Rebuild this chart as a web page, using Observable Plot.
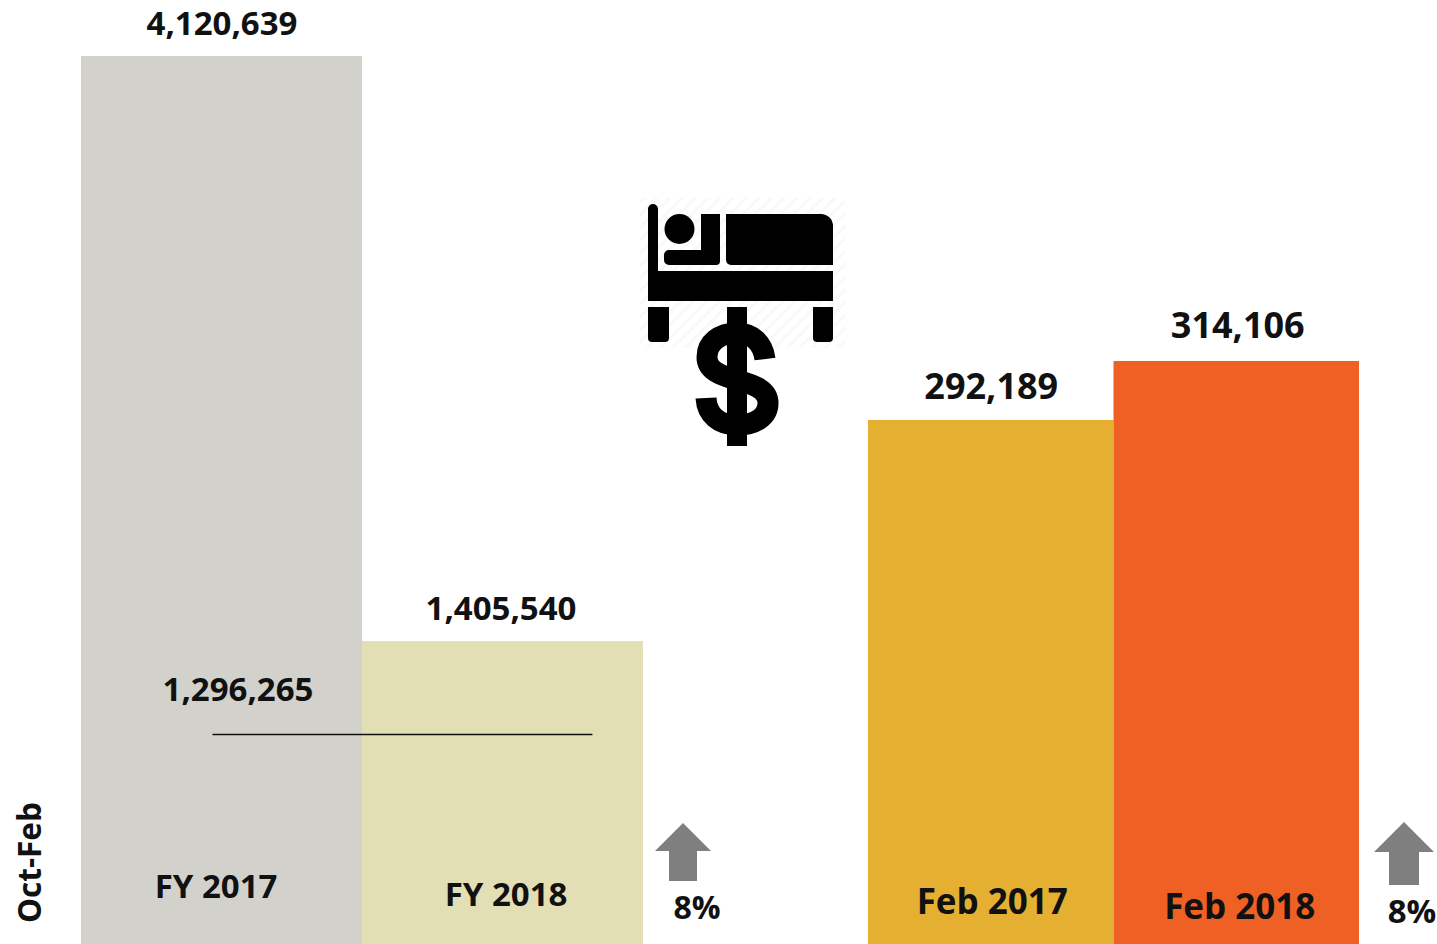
<!DOCTYPE html>
<html>
<head>
<meta charset="utf-8">
<script src="https://cdn.jsdelivr.net/npm/d3@7"></script>
<script src="https://cdn.jsdelivr.net/npm/@observablehq/plot@0.6"></script>
<style>
html,body{margin:0;padding:0;background:#fff;overflow:hidden}
#root{position:relative;width:1437px;height:944px;overflow:hidden}
#root>svg{position:absolute;top:0}
#root text{font-family:"Open Sans",sans-serif}
</style>
</head>
<body>
<div id="root"></div>
<script>
// Oct-Feb cumulative panel
const fyLabels = ["FY 2017", "FY 2018"];
const fyValues = [4120639, 1405540];
const fyColors = ["#d2d1cc", "#e3dfb4"];
const priorPeriodValue = 1296265;
// February panel
const febLabels = ["Feb 2017", "Feb 2018"];
const febValues = [292189, 314106];
const febColors = ["#e5b032", "#ee6024"];
const changeLabels = ["8%", "8%"];
const sideLabel = "Oct-Feb";

const H = 944, INK = "#111";
const fmt = d3.format(",");
const fyData = fyLabels.map((label, i) => ({label, value: fyValues[i], color: fyColors[i], i}));
const febData = febLabels.map((label, i) => ({label, value: febValues[i], color: febColors[i], i}));

const baseText = {fill: INK, fontWeight: 700, lineAnchor: "bottom", textAnchor: "middle"};
const valueLabel = (d, fs, dx, dy) => Plot.text([d], {...baseText, x: () => d.i + 0.5, y: "value", text: () => fmt(d.value), fontSize: fs, dx, dy});
const baseLabel = (d, yMin, fs, dx, dy) => Plot.text([d], {...baseText, x: () => d.i + 0.5, y: () => yMin, text: "label", fontSize: fs, dx, dy});
const bars = data => Plot.rectY(data, {x1: "i", x2: d => d.i + 1, y: "value", fill: "color", inset: 0});

// Left panel: zero-based scale
const leftTop = 4380499;
const referenceLevel = 974500; // height of the annotation line
const left = Plot.plot({
  width: 720, height: H, margin: 0, marginLeft: 81, marginRight: 77,
  x: {domain: [0, 2], axis: null}, y: {domain: [0, leftTop], axis: null},
  marks: [
    bars(fyData),
    Plot.ruleY([referenceLevel], {x1: 0.468, x2: 1.82, stroke: "#111", strokeWidth: 1.5}),
    valueLabel(fyData[0], 33, 0, -21),
    valueLabel(fyData[1], 33, -2, -22),
    Plot.text([priorPeriodValue], {...baseText, x: () => 0.5, y: d => referenceLevel, text: d => fmt(d), fontSize: 33, dx: 16, dy: -33}),
    baseLabel(fyData[0], 0, 33, -6, -47),
    baseLabel(fyData[1], 0, 33, 3, -39)
  ]
});
left.style.left = "0px";

// Right panel: its scale does not start at zero, as in the picture
const right = Plot.plot({
  width: 717, height: H, margin: 0, marginLeft: 148, marginRight: 78,
  x: {domain: [0, 2], axis: null}, y: {domain: [97520, 448200], axis: null},
  marks: [
    bars(febData),
    valueLabel(febData[0], 36, 0, -21),
    valueLabel(febData[1], 36, 1, -23),
    baseLabel(febData[0], 97520, 35, 1, -31),
    baseLabel(febData[1], 97520, 35, 3, -26)
  ]
});
right.style.left = "720px";

// Decoration: bed and dollar icon, arrows and side text
const NS = "http://www.w3.org/2000/svg";
const over = document.createElementNS(NS, "svg");
over.setAttribute("width", 1437); over.setAttribute("height", H);
over.style.left = "0px";
over.innerHTML = `
<defs><pattern id="hatch" width="9" height="9" patternUnits="userSpaceOnUse" patternTransform="rotate(45)">
<rect width="3" height="9" fill="#f9f9f9"/></pattern></defs>
<rect x="640" y="198" width="205" height="150" fill="url(#hatch)"/>
<g fill="#000">
<path d="M648 209a5 5 0 0 1 10 0V271H833V301H648Z"/>
<path d="M726 214H821a12 12 0 0 1 12 12V265H731a5 5 0 0 1 -5 -5Z"/>
<path d="M701 214H720V261a4 4 0 0 1 -4 4H669a5 5 0 0 1 -5 -5V255a5 5 0 0 1 5 -5H701Z"/>
<circle cx="679.500" cy="229" r="15"/>
<path d="M648 307H669V338a4 4 0 0 1 -4 4H652a4 4 0 0 1 -4 -4Z"/>
<path d="M813 307H833V338a4 4 0 0 1 -4 4H817a4 4 0 0 1 -4 -4Z"/>
<rect x="727" y="307" width="20" height="139"/>
</g>
<path d="M765 359C763 343 752 333 737 333C719 333 707 343 707 357C707 370 719 375 737 380C755 385 768 390 768 403C768 417 755 425 737 425C719 425 707 415 706 398" fill="none" stroke="#000" stroke-width="21"/>
<path d="M683 823L711 851H697V881H669V851H655Z" fill="#7f7f7f"/>
<path d="M1404 822L1434 852H1419V885H1389V852H1374Z" fill="#7f7f7f"/>
<text x="697" y="919" text-anchor="middle" font-size="32" font-weight="700" fill="${INK}">${changeLabels[0]}</text>
<text x="1412" y="923" text-anchor="middle" font-size="33" font-weight="700" fill="${INK}">${changeLabels[1]}</text>
<text transform="translate(41,923) rotate(-90)" font-size="31.5" font-weight="700" fill="${INK}">${sideLabel}</text>`;

const root = document.getElementById("root");
root.append(left, right, over);
</script>
</body>
</html>
